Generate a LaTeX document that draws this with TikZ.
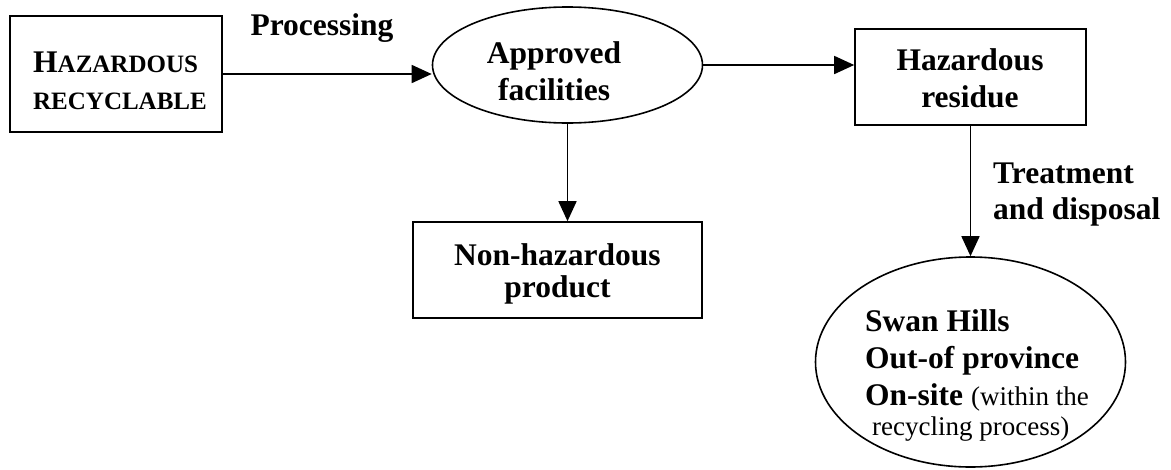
\documentclass[tikz,border=0pt]{standalone}
\usepackage{fontspec}
\setmainfont{Liberation Serif}
\usetikzlibrary{arrows.meta,shapes.geometric}
\begin{document}
\begin{tikzpicture}[x=1pt,y=-1pt,
  boxshape/.style={draw, line width=1.6pt, rectangle, inner sep=0pt},
  ovalshape/.style={draw, line width=1.6pt, ellipse, inner sep=0pt},
  txt/.style={inner sep=0pt, font=\bfseries\fontsize{31.5}{37}\selectfont},
  flow/.style={line width=1.6pt, -{Triangle[length=20pt,width=18pt]}}]
\useasboundingbox (0,0) rectangle (1171,469);
% shapes
\node[boxshape, minimum width=212pt, minimum height=116pt] (hr) at (116,74) {};
\node[ovalshape, minimum width=270pt, minimum height=116pt] (app) at (567.5,65) {};
\node[boxshape, minimum width=289pt, minimum height=96pt] (nh) at (557.5,270) {};
\node[boxshape, minimum width=231pt, minimum height=96pt] (res) at (970.5,77) {};
\node[ovalshape, minimum width=310pt, minimum height=210pt] (site) at (970.5,362) {};
% texts
\node[txt, align=left, anchor=north west, font=\bfseries\fontsize{31.5}{36.5}\selectfont] (hrt) at (33,51.7)
  {H{\fontsize{25}{36.5}\selectfont AZARDOUS}\\{\fontsize{25}{36.5}\selectfont RECYCLABLE}};
\node[txt, align=center, anchor=north] (appt) at (554,41.7) {Approved\\facilities};
\node[txt, align=center, anchor=north] (rest) at (970,48.7) {Hazardous\\residue};
\node[txt, align=center, anchor=north, font=\bfseries\fontsize{31.5}{32}\selectfont] (nht) at (557.5,243.7) {Non-hazardous\\product};
\node[txt, anchor=base] (proc) at (322,35) {Processing};
\node[txt, align=left, anchor=north west, font=\bfseries\fontsize{31.5}{36}\selectfont] (treat) at (993,162.7) {Treatment\\and disposal};
\node[txt, align=left, anchor=north west] (sitet) at (865,309.7)
  {Swan Hills\\Out-of province\\On-site {\mdseries\fontsize{27}{37}\selectfont(within the}\\[-7pt]{\mdseries\fontsize{27}{37}\selectfont\hspace*{7pt}recycling process)}};
% connectors
\draw[flow] (hr.east) -- (hr.east -| app.west);
\draw[flow] (app.east) -- (app.east -| res.west);
\draw[flow] (app.south) -- (app.south |- nh.north);
\draw[flow] (res.south) -- (site.north);
\end{tikzpicture}
\end{document}
